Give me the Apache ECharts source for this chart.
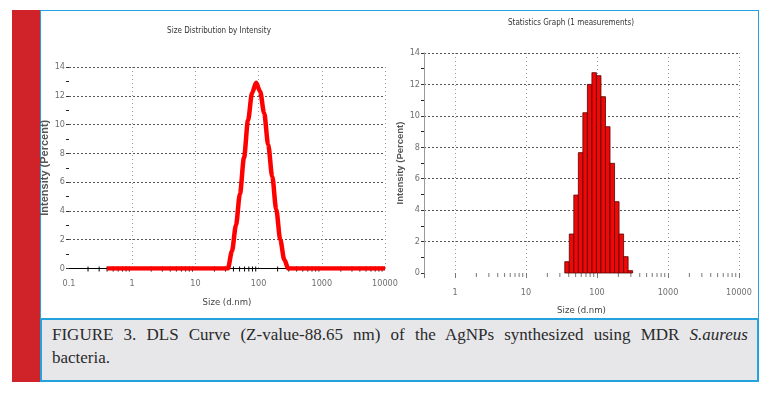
<!DOCTYPE html>
<html>
<head>
<meta charset="utf-8">
<script src="https://cdn.jsdelivr.net/npm/echarts@6/dist/echarts.min.js"></script>
<style>
  html, body { margin: 0; padding: 0; background: #fff; }
  #page { position: relative; width: 768px; height: 397px; overflow: hidden; }
  .redbar { position: absolute; left: 12px; top: 10px; width: 28px; height: 372px; background: #cf2229; }
  .frame { position: absolute; left: 40px; top: 10px; width: 719px; height: 310px; box-sizing: border-box;
           border: 1.5px solid #22a3dd; background: #fff; }
  .caption { position: absolute; left: 40px; top: 318px; width: 719px; height: 64px; box-sizing: border-box;
             border: 2px solid #22a3dd; background: #e7e7ea; padding: 3px 9px 0 10px; z-index: 3;
             font-family: 'Liberation Serif', 'DejaVu Serif', serif; font-size: 17px; line-height: 23px; color: #2a2a2a; }
  .caption .l1 { text-align: justify; text-align-last: justify; white-space: nowrap; }
  #chart { position: absolute; left: 0; top: 0; width: 768px; height: 397px; z-index: 2; }
</style>
</head>
<body>
<div id="page">
  <div class="redbar"></div>
  <div class="frame"></div>
  <div id="chart"></div>
  <div class="caption">
    <div class="l1">FIGURE 3. DLS Curve (Z-value-88.65 nm) of the AgNPs synthesized using MDR <i>S.aureus</i></div>
    <div>bacteria.</div>
  </div>
</div>
<script>
// size distribution by intensity (left curve)
const curveSizes = [0.4, 32.67, 37.84, 43.82, 50.75, 58.77, 68.06, 78.82, 91.28, 105.7, 122.4, 141.8, 164.2, 190.1, 220.2, 255.0, 295.3, 10000]
const curveIntensity = [0, 0, 1.2, 3.0, 5.2, 7.7, 10.3, 12.2, 12.9, 12.3, 10.8, 8.6, 6.4, 4.1, 2.0, 0.6, 0, 0]

// statistics graph (right histogram), bin centres
const binSizes = [37.84, 43.82, 50.75, 58.77, 68.06, 78.82, 91.28, 105.7, 122.4, 141.8, 164.2, 190.1, 220.2, 255.0, 295.3]
const binIntensity = [0.72, 2.48, 4.96, 7.66, 10.2, 12.0, 12.75, 12.56, 11.22, 9.31, 6.98, 4.54, 2.48, 1.04, 0.15]

// minor tick positions on the log axes
const leftMinorTicks = [0.2, 0.3, 0.4, 0.5, 0.6, 0.7, 0.8, 0.9, 2, 3, 4, 5, 6, 7, 8, 9,
  20, 30, 40, 50, 60, 70, 80, 90, 200, 300, 400, 500, 600, 700, 800, 900,
  2000, 3000, 4000, 5000, 6000, 7000, 8000, 9000]
const rightMinorTicks = [2, 3, 4, 5, 6, 7, 8, 9, 20, 30, 40, 50, 60, 70, 80, 90,
  200, 300, 400, 500, 600, 700, 800, 900, 2000, 3000, 4000, 5000, 6000, 7000, 8000, 9000]

const narrow = "'Liberation Sans Narrow', 'DejaVu Sans Condensed', sans-serif"
const bold = "'Liberation Sans', Arial, sans-serif"

function decadeLabel (v) {
  const e = Math.log10(v)
  return Math.abs(e - Math.round(e)) < 1e-6 ? String(+v.toPrecision(3)) : ''
}

function tickSeries (axis, ticks, color, up, down) {
  return {
    type: 'custom',
    xAxisIndex: axis,
    yAxisIndex: axis,
    silent: true,
    z: 2,
    data: ticks.map(v => [v, 0]),
    renderItem: (params, api) => {
      const p = api.coord([api.value(0), 0])
      return {
        type: 'line',
        shape: { x1: p[0], y1: p[1] - up, x2: p[0], y2: p[1] + down },
        style: { stroke: color, lineWidth: 1 }
      }
    }
  }
}

const half = Math.sqrt(binSizes[1] / binSizes[0])

const yLabel = { color: '#707070', fontSize: 9, fontFamily: narrow, margin: 4 }
const xLabel = { color: '#707070', fontSize: 9, fontFamily: narrow }

const option = {
  animation: false,
  graphic: [
    { type: 'text', x: 219, y: 31, style: { text: 'Size Distribution by Intensity', align: 'center', verticalAlign: 'middle', fontSize: 8, fontFamily: narrow, fill: '#333' } },
    { type: 'text', x: 571, y: 23, style: { text: 'Statistics Graph (1 measurements)', align: 'center', verticalAlign: 'middle', fontSize: 8, fontFamily: narrow, fill: '#333' } }
  ],
  grid: [
    { left: 69, top: 67, width: 316, height: 201.5 },
    { left: 424, top: 53, width: 315, height: 220 }
  ],
  xAxis: [
    {
      type: 'log', gridIndex: 0, logBase: 10, min: 0.1, max: 10000,
      name: 'Size (d.nm)', nameLocation: 'middle', nameGap: 29,
      nameTextStyle: { color: '#444', fontSize: 9.5, fontFamily: narrow },
      axisLine: { show: true, onZero: false, lineStyle: { color: '#000', width: 1 } },
      axisTick: { show: false },
      axisLabel: Object.assign({ margin: 11, formatter: decadeLabel }, xLabel),
      splitLine: { show: true, showMinLine: false, lineStyle: { type: [1, 3], color: '#999' } }
    },
    {
      type: 'log', gridIndex: 1, logBase: 10, min: 0.366, max: 10000,
      name: 'Size (d.nm)', nameLocation: 'middle', nameGap: 33,
      nameTextStyle: { color: '#444', fontSize: 9.5, fontFamily: narrow },
      axisLine: { show: false },
      axisTick: { show: true, length: 5, lineStyle: { color: '#777' } },
      axisLabel: Object.assign({ margin: 15, formatter: decadeLabel }, xLabel),
      splitLine: { show: true, showMinLine: false, lineStyle: { type: [1, 3], color: '#999' } }
    }
  ],
  yAxis: [
    {
      type: 'value', gridIndex: 0, min: 0, max: 14, interval: 2,
      name: 'Intensity (Percent)', nameLocation: 'middle', nameGap: 10,
      nameTextStyle: { color: '#555', fontSize: 11, fontWeight: 'bold', fontFamily: bold },
      axisLine: { show: false },
      axisTick: { show: true, length: 3, lineStyle: { color: '#333' } },
      minorTick: { show: true, splitNumber: 2, length: 3, lineStyle: { color: '#222' } },
      axisLabel: yLabel,
      splitLine: { show: true, showMinLine: false, lineStyle: { type: [2, 2], color: '#555' } }
    },
    {
      type: 'value', gridIndex: 1, min: 0, max: 14, interval: 2,
      name: 'Intensity (Percent)', nameLocation: 'middle', nameGap: 11,
      nameTextStyle: { color: '#555', fontSize: 9.5, fontWeight: 'bold', fontFamily: bold },
      axisLine: { show: true, lineStyle: { color: '#999' } },
      axisTick: { show: true, length: 3, lineStyle: { color: '#333' } },
      minorTick: { show: true, splitNumber: 2, length: 3, lineStyle: { color: '#222' } },
      axisLabel: yLabel,
      splitLine: { show: true, showMinLine: false, lineStyle: { type: [2, 2], color: '#555' } }
    }
  ],
  series: [
    tickSeries(0, leftMinorTicks, '#000', 2, 3),
    {
      type: 'line',
      xAxisIndex: 0,
      yAxisIndex: 0,
      z: 3,
      data: curveSizes.map((s, i) => [s, curveIntensity[i]]),
      showSymbol: false,
      smooth: 0.3,
      smoothMonotone: 'x',
      lineStyle: { color: '#f00', width: 4.5 }
    },
    tickSeries(1, rightMinorTicks, '#777', 0, 4),
    {
      type: 'custom',
      xAxisIndex: 1,
      yAxisIndex: 1,
      z: 3,
      data: binSizes.map((s, i) => [s, binIntensity[i]]),
      renderItem: (params, api) => {
        const x = api.value(0)
        const p0 = api.coord([x / half, 0])
        const p1 = api.coord([x * half, api.value(1)])
        return {
          type: 'rect',
          shape: { x: p0[0], y: p1[1], width: p1[0] - p0[0], height: p0[1] - p1[1] },
          style: { fill: '#ee0808', stroke: '#5a0000', lineWidth: 0.8 }
        }
      }
    }
  ]
}

const myChart = echarts.init(document.getElementById('chart'))
myChart.setOption(option)
</script>
</body>
</html>
